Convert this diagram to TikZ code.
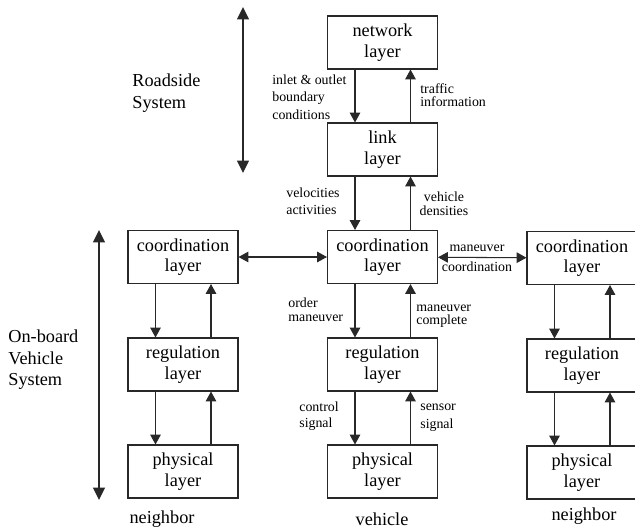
\documentclass[tikz,border=0pt]{standalone}
\usepackage{fontspec}
\setmainfont{Liberation Serif}
\usetikzlibrary{arrows.meta,calc}
\definecolor{layergray}{RGB}{40,40,40}

\begin{document}
\begin{tikzpicture}[
    layer/.style={draw=layergray, line width=0.6pt, minimum width=2.2cm, minimum height=1.06cm, align=center, font=\fontsize{10.4}{11.6}\selectfont},
    lbl/.style={font=\fontsize{7.9}{#1}\selectfont, align=left, inner sep=0pt},
    lbl/.default=9.5,
    side/.style={font=\fontsize{10.4}{12.3}\selectfont, align=left, inner sep=0pt},
    flow/.style={-{Triangle[length=5.6pt,width=6pt]}, line width=0.6pt, layergray},
    both/.style={{Triangle[length=5.6pt,width=6pt]}-{Triangle[length=5.6pt,width=6pt]}, line width=0.6pt, layergray},
    span/.style={{Triangle[length=7pt,width=6.5pt]}-{Triangle[length=7pt,width=6.5pt]}, line width=1.4pt, layergray}
]
    \useasboundingbox (0,0) rectangle (12.7,10.58);

    % roadside system
    \node[layer] (net) at (7.65,9.73) {network\\layer};
    \node[layer] (link) at (7.65,7.59) {link\\layer};

    % on-board, vehicle and its two neighbors
    \node[layer] (coord) at (7.65,5.44) {coordination\\layer};
    \node[layer] (reg) at (7.65,3.29) {regulation\\layer};
    \node[layer] (phys) at (7.65,1.15) {physical\\layer};
    \node[layer] (lcoord) at (3.66,5.44) {coordination\\layer};
    \node[layer] (lreg) at (3.66,3.29) {regulation\\layer};
    \node[layer] (lphys) at (3.66,1.15) {physical\\layer};
    \node[layer] (rcoord) at (11.64,5.42) {coordination\\layer};
    \node[layer] (rreg) at (11.64,3.27) {regulation\\layer};
    \node[layer] (rphys) at (11.64,1.13) {physical\\layer};

    % down on the left, up on the right
    \foreach \a/\b in {net/link, link/coord, coord/reg, reg/phys, lcoord/lreg, lreg/lphys, rcoord/rreg, rreg/rphys} {
        \draw[flow] ([xshift=-0.55cm]\a.south) -- ([xshift=-0.55cm]\b.north);
        \draw[flow] ([xshift=0.56cm]\b.north) -- ([xshift=0.56cm]\a.south);
    }
    \draw[both] (lcoord) -- (coord);
    \draw[both] (coord) -- (rcoord);

    % signal labels
    \node[lbl=10, anchor=west] (inlet) at (5.44,8.64) {inlet \& outlet\\boundary\\conditions};
    \node[lbl=7.4, anchor=west] (traffic) at (8.4,8.67) {traffic\\information};
    \node[lbl=9.7, anchor=west] (veloc) at (5.72,6.56) {velocities\\activities};
    \node[lbl=8, anchor=center, align=center] (dens) at (8.88,6.51) {vehicle\\densities};
    \node[lbl=11.4, anchor=center, align=center] (mcoord) at (9.54,5.42) {maneuver\\coordination};
    \node[lbl=8, anchor=west] (order) at (5.76,4.38) {order\\maneuver};
    \node[lbl=7.4, anchor=west] (done) at (8.32,4.26) {maneuver\\complete};
    \node[lbl=9.3, anchor=west] (ctrl) at (5.98,2.25) {control\\signal};
    \node[lbl=10.2, anchor=west] (sens) at (8.4,2.22) {sensor\\signal};

    % system spans
    \coordinate (rtop) at (4.86,10.44);
    \coordinate (rbot) at (4.86,7.12);
    \coordinate (otop) at (1.98,5.98);
    \coordinate (obot) at (1.98,0.58);
    \draw[span] (rtop) -- (rbot);
    \draw[span] (otop) -- (obot);
    \node[side, anchor=west] (road) at (2.64,8.72) {Roadside\\System};
    \node[side, anchor=west] (onboard) at (0.16,3.38) {On-board\\Vehicle\\System};

    \node[side] (lname) at (3.24,0.2) {neighbor};
    \node[side] (vname) at (7.64,0.2) {vehicle};
    \node[side] (rname) at (11.68,0.26) {neighbor};
\end{tikzpicture}
\end{document}
